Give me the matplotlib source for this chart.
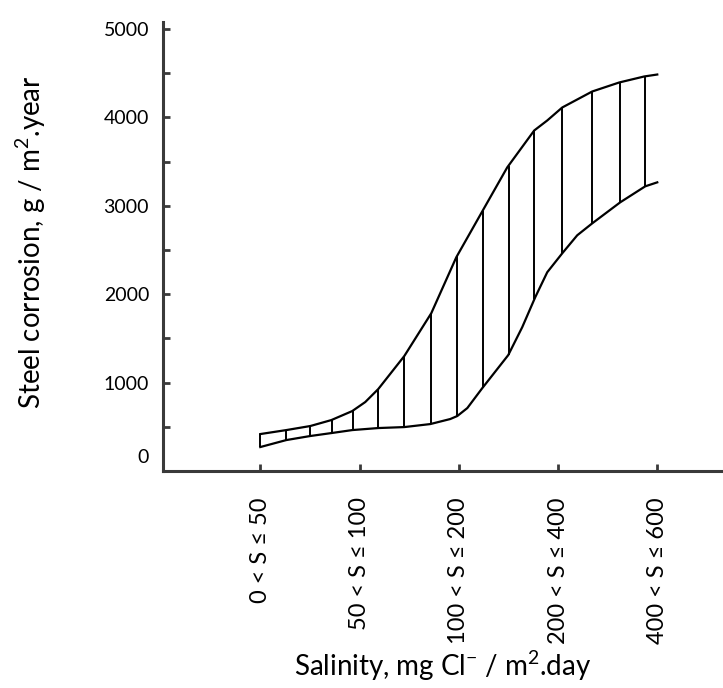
import numpy as np
import matplotlib
matplotlib.use('Agg')
import matplotlib.pyplot as plt
import matplotlib.transforms as mtrans

plt.rcParams['font.family'] = ['Lato', 'DejaVu Sans']
plt.rcParams['mathtext.default'] = 'regular'

# categorias de salinidad (eje x)
categorias = ['0 < S ≤ 50', '50 < S ≤ 100', '100 < S ≤ 200',
              '200 < S ≤ 400', '400 < S ≤ 600']

# curva superior (x en unidades de categoria)
x_max = [1.000, 1.262, 1.504, 1.715, 1.926, 2.057, 2.188, 2.450, 2.722,
         2.974, 3.236, 3.487, 3.759, 3.890, 4.041, 4.343, 4.615, 4.867, 4.998]
corrosion_max = [418, 463, 509, 576, 678, 780, 927, 1300, 1785,
                 2418, 2938, 3435, 3853, 3966, 4113, 4294, 4396, 4464, 4486]

# curva inferior
x_min = [1.000, 1.262, 1.504, 1.715, 1.926, 2.188, 2.450, 2.712, 2.913,
         2.984, 3.085, 3.236, 3.497, 3.638, 3.769, 3.890, 4.041, 4.192,
         4.343, 4.625, 4.877, 4.998]
corrosion_min = [271, 350, 396, 429, 463, 486, 497, 531, 588,
                 622, 712, 938, 1311, 1627, 1966, 2249, 2463, 2667,
                 2802, 3040, 3221, 3266]

# posiciones del rayado vertical
x_rayado = [1.00, 1.26, 1.50, 1.72, 1.93, 2.19, 2.45, 2.72, 2.98,
            3.24, 3.50, 3.76, 4.04, 4.34, 4.62, 4.87]

fig = plt.figure(figsize=(7.23, 6.88), dpi=100)
ax = fig.add_axes([0.2254, 0.3154, 0.7746, 0.6526])

ax.plot(x_max, corrosion_max, color='black', lw=1.6)
ax.plot(x_min, corrosion_min, color='black', lw=1.6)
arriba = np.interp(x_rayado, x_max, corrosion_max)
abajo = np.interp(x_rayado, x_min, corrosion_min)
ax.vlines(x_rayado, abajo, arriba, color='black', lw=1.4)

ax.set_xlim(0.02, 5.66)
ax.set_ylim(0, 5080)

ax.set_xticks(range(1, 6))
ax.set_xticklabels(categorias, rotation=90, fontsize=17)
ax.set_yticks(range(0, 5001, 1000))
ax.set_yticks(range(500, 5000, 1000), minor=True)
ax.tick_params(axis='y', labelsize=14)

for s in ['top', 'right']:
    ax.spines[s].set_visible(False)
for s in ['left', 'bottom']:
    ax.spines[s].set_color('#3a3a3a')
    ax.spines[s].set_linewidth(2.2)
ax.tick_params(which='both', direction='in', length=5, width=2,
               color='#3a3a3a')
ax.tick_params(axis='x', pad=19)
ax.tick_params(axis='y', pad=10)

# el "0" aparece algo por encima del eje en el original
lab0 = ax.get_yticklabels()[0]
lab0.set_transform(lab0.get_transform() +
                   mtrans.ScaledTranslation(0, 15 / 100, fig.dpi_scale_trans))

ax.set_ylabel('Steel corrosion, g / m$^2$.year', fontsize=20)
ax.yaxis.set_label_coords(-0.205, 0.51)
ax.set_xlabel('Salinity, mg Cl$^{-}$ / m$^2$.day', fontsize=20)
ax.xaxis.set_label_coords(0.50, -0.395)

plt.savefig('out.png', dpi=100)
plt.close()
